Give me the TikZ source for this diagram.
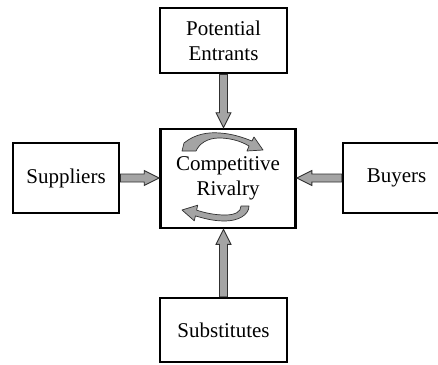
\documentclass[tikz,border=0pt]{standalone}
\usepackage{fontspec}
\setmainfont{Liberation Serif}
\usetikzlibrary{calc}
\definecolor{arrowgray}{HTML}{A4A4A4}
\definecolor{arrowedge}{HTML}{303030}
\tikzset{
  boxnode/.style={draw=black, line width=2.6pt, fill=white, rectangle, inner sep=0pt,
    align=center, font=\fontsize{21}{25}\selectfont},
  fatarrow/.style={fill=arrowgray, draw=arrowedge, line width=0.9pt, line join=miter},
  curvearrow/.style={fill=arrowgray, draw=arrowedge, line width=0.7pt, line join=round}
}
\newcommand\fatV[2]{%
  \draw[fatarrow] let \p1=(#1), \p2=(#2), \n1={(\y2-\y1)/abs(\y2-\y1)} in
    (\x1-4pt,\y1) -- (\x1-4pt,\y2-15pt*\n1) -- (\x1-7.5pt,\y2-15pt*\n1) -- (\x1,\y2)
    -- (\x1+7.5pt,\y2-15pt*\n1) -- (\x1+4pt,\y2-15pt*\n1) -- (\x1+4pt,\y1) -- cycle;}
\newcommand\fatH[2]{%
  \draw[fatarrow] let \p1=(#1), \p2=(#2), \n1={(\x2-\x1)/abs(\x2-\x1)} in
    (\x1,\y1-4pt) -- (\x2-15pt*\n1,\y1-4pt) -- (\x2-15pt*\n1,\y1-7.5pt) -- (\x2,\y1)
    -- (\x2-15pt*\n1,\y1+7.5pt) -- (\x2-15pt*\n1,\y1+4pt) -- (\x1,\y1+4pt) -- cycle;}
\begin{document}
\begin{tikzpicture}[x=1pt, y=-1pt]
\useasboundingbox (0,0) rectangle (438,364);
\fill[white] (0,0) rectangle (438,364);

\node[boxnode, minimum width=127pt, minimum height=65pt] (pe) at (223.5,40.5) {Potential\\Entrants};
\node[boxnode, minimum width=135pt, minimum height=99pt] (cr) at (228,178.5) {Competitive\\Rivalry};
\node[boxnode, minimum width=106pt, minimum height=70pt] (sup) at (66,178) {Suppliers};
\node[boxnode, minimum width=107pt, minimum height=70pt] (buy) at (396.5,178) {Buyers};
\node[boxnode, minimum width=127pt, minimum height=64pt] (sub) at (223.5,330) {Substitutes};

\fatV{pe.south}{cr.north}
\fatV{sub.north}{cr.south}
\fatH{sup.east}{cr.west}
\fatH{buy.west}{cr.east}

% circular arrows
\draw[curvearrow] (184,143) .. controls (195,134) and (208,132) .. (220,133)
  .. controls (234,134) and (244,138) .. (252,141) -- (254,137) -- (263,150) -- (247,151)
  -- (249,146) .. controls (239,140) and (228,138) .. (219,138)
  .. controls (207,138) and (199,144) .. (196,151) -- (182,151) -- cycle;
\draw[curvearrow] (249,206) .. controls (249,215) and (238,221) .. (225,221)
  .. controls (212,221) and (203,218) .. (195.4,215.9) -- (194.3,220.8) -- (182,210)
  -- (197.7,205.2) -- (196.6,210.1) .. controls (205,213) and (215,215) .. (225,215)
  .. controls (235,215) and (241,212) .. (241,206) -- cycle;
\end{tikzpicture}
\end{document}
